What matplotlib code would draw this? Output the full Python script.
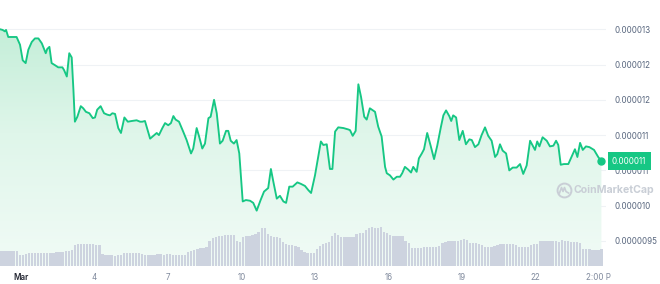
import numpy as np
import matplotlib
matplotlib.use("Agg")
import matplotlib.pyplot as plt
from matplotlib.colors import LinearSegmentedColormap
from matplotlib.patches import PathPatch
from matplotlib.lines import Line2D

plt.rcParams['font.family'] = ['Inter', 'DejaVu Sans']

# ---------------- data ----------------
# time axis: day of March (fractional)
days = [0.14, 0.25, 0.34, 0.39, 0.48, 0.62, 0.82, 0.96, 1.07, 1.19, 1.30, 1.44, 1.57, 1.71, 1.85, 2.01, 2.07, 2.16, 2.25, 2.39,
        2.52, 2.69, 2.76, 2.87, 2.97, 3.07, 3.14, 3.20, 3.30, 3.44, 3.54, 3.65, 3.79, 3.93, 4.02, 4.11, 4.25, 4.39, 4.52, 4.63,
        4.73, 4.84, 4.97, 5.08, 5.22, 5.36, 5.52, 5.72, 5.86, 5.95, 6.06, 6.17, 6.27, 6.44, 6.54, 6.63, 6.77, 6.88, 7.01, 7.12,
        7.22, 7.31, 7.45, 7.62, 7.76, 7.94, 8.03, 8.17, 8.27, 8.40, 8.51, 8.65, 8.74, 8.88, 8.99,
        9.12, 9.23, 9.37, 9.46, 9.56, 9.69, 9.80, 9.91, 10.05, 10.18, 10.35, 10.48, 10.62, 10.78, 10.92, 11.09, 11.20, 11.30,
        11.44, 11.57, 11.71, 11.82, 11.95, 12.09, 12.28, 12.42, 12.59, 12.73, 12.84,
        13.00, 13.11, 13.24, 13.34, 13.48, 13.61, 13.71, 13.82, 13.95, 14.16, 14.36, 14.43, 14.54, 14.66, 14.77, 14.88, 15.01,
        15.11, 15.24, 15.45, 15.58, 15.72, 15.86, 15.93, 16.06, 16.20, 16.34, 16.47, 16.56, 16.67, 16.81, 16.92, 17.01, 17.15,
        17.24, 17.36,
        17.45, 17.58, 17.72, 17.86, 17.99, 18.13, 18.24, 18.35, 18.48, 18.56, 18.64, 18.76, 18.89, 19.03, 19.16, 19.30, 19.40,
        19.53, 19.67, 19.80, 19.94, 20.07, 20.21, 20.35, 20.44, 20.55, 20.66, 20.80, 20.93, 21.07, 21.23, 21.37, 21.50, 21.64,
        21.78,
        21.89, 21.98, 22.07, 22.16, 22.29, 22.46, 22.59, 22.73, 22.84, 22.93, 23.03, 23.16, 23.34, 23.48, 23.61, 23.71, 23.82,
        23.93, 24.06, 24.20, 24.39, 24.56, 24.69]

# price in units of 1e-6 USD
price_micro = [12.50, 12.49, 12.47, 12.49, 12.39, 12.39, 12.39, 12.28, 12.06, 12.02, 12.21, 12.32, 12.37, 12.37, 12.30, 12.16,
               12.22, 12.25, 12.02, 11.99, 11.96, 11.96, 11.92, 11.83, 12.16, 12.10, 11.64, 11.19, 11.26, 11.41, 11.38, 11.33,
               11.31, 11.24, 11.25, 11.36, 11.41, 11.31, 11.29, 11.28,
               11.31, 11.30, 11.10, 11.03, 11.25, 11.19, 11.20, 11.21, 11.19, 11.19, 11.20, 11.07, 10.95, 11.00, 11.03, 11.00,
               11.10, 11.17, 11.14, 11.17, 11.27, 11.22, 11.19, 11.05, 10.93, 10.74, 10.81, 11.10, 10.98, 10.81, 10.88, 11.24,
               11.26, 11.50, 11.31,
               10.88, 10.92, 11.06, 11.06, 10.92, 10.88, 10.93, 10.74, 10.06, 10.08, 10.07, 10.04, 9.93, 10.08, 10.20, 10.25,
               10.52, 10.34, 10.10, 10.14, 10.06, 10.04, 10.27, 10.27, 10.33, 10.31, 10.28, 10.22, 10.18,
               10.43, 10.65, 10.91, 10.86, 10.87, 10.52, 10.52, 11.05, 11.11, 11.10, 11.08, 11.07, 10.99, 11.06, 11.72, 11.54,
               11.26, 11.22, 11.38, 11.33, 11.12, 10.98, 10.55, 10.46, 10.43, 10.37, 10.41, 10.41, 10.46, 10.55, 10.51, 10.47,
               10.55, 10.48, 10.67, 10.74,
               10.80, 11.03, 10.85, 10.66, 10.85, 11.10, 11.28, 11.35, 11.27, 11.20, 11.28, 11.25, 10.93, 11.06, 10.87, 10.94,
               10.93, 10.83, 10.87, 11.00, 11.11, 10.99, 10.92, 10.69, 10.73, 10.87, 10.78, 10.74, 10.50, 10.54, 10.54, 10.59,
               10.45, 10.57, 10.92,
               10.85, 10.79, 10.91, 10.84, 10.97, 10.92, 10.84, 10.85, 10.92, 10.86, 10.58, 10.59, 10.59, 10.70, 10.80, 10.69,
               10.89, 10.79, 10.84, 10.83, 10.79, 10.69, 10.63]

# volume (arbitrary units), one bar per 3 hours
volume = [15, 15, 15, 14.5, 15, 14.5,
          11, 11,
          12, 12.5, 13, 13, 13, 13, 13, 12.5, 13,
          13, 13.5, 14, 14, 14.5, 15,
          16,
          21, 22, 22, 22, 22, 21.5, 21.5, 21, 21,
          12, 11, 10.5, 10.5, 10, 10.5, 10.5,
          12.5, 12.5, 12.5, 12.5, 12.5, 12.5, 12,
          11, 11, 11, 11, 11.5, 11.5, 11, 11.5, 12, 11, 10.5, 10.5, 10.5, 10.5,
          14, 15, 16, 17, 18, 18, 19,
          25, 28, 29, 30, 30, 30.5, 31, 31, 31,
          25, 24,
          29, 30, 30, 31, 32,
          34, 38, 38,
          32, 30, 29, 29, 28,
          24, 22, 21, 21, 20, 19,
          16, 14, 13, 12.5, 13,
          17, 20, 22, 23, 24,
          30, 33, 31,
          29, 28.5, 28.5, 28.5, 29,
          32, 32.5, 33,
          36, 38, 38.5, 38, 38, 38.5,
          34, 33,
          31, 30, 29.5, 29.5, 29.5,
          25, 23,
          18, 18, 18, 18, 18.5, 18.5, 18.5, 19, 19, 20,
          23, 24, 25, 25, 24.5, 24.5,
          26, 26.5, 25.5,
          23, 22.5, 22.5, 21.5, 21,
          18.5, 18.5, 18.5,
          20, 21, 21.5, 21.5, 22, 21.5, 21.5, 21,
          19, 18.5, 18.5, 18.5,
          21, 22, 22,
          24.5, 25, 25, 25, 25, 24.5, 24,
          26,
          25, 24.5, 24, 24, 23.5, 23,
          17, 16.5, 16.5, 16, 16, 16, 16.5]
vol_start_day = 0.2
vol_step_day = 0.125

ytick_vals_micro = [9.5, 10.0, 10.5, 11.0, 11.5, 12.0, 12.5]
ytick_labels = ['0.0000095', '0.000010', '0.000011', '0.000011', '0.000012', '0.000012', '0.000013']
xtick_days = [1, 4, 7, 10, 13, 16, 19, 22, 24.583]
xtick_labels = ['Mar', '4', '7', '10', '13', '16', '19', '22', '2:00 P']
current_label = '0.000011'

# ---------------- styling ----------------
GREEN = '#16c784'
W, H = 660, 284
fig = plt.figure(figsize=(W / 100, H / 100), dpi=100)
fig.patch.set_facecolor('white')

ax_right_px = 606
ax_bottom_px = 265.7
rect = [0, (H - ax_bottom_px) / H, ax_right_px / W, ax_bottom_px / H]
ax = fig.add_axes(rect)
ax.set_facecolor('none')
axv = ax.twinx()

x = np.array(days)
y = np.array(price_micro) * 1e-6
yticks = np.array(ytick_vals_micro) * 1e-6

xmin, xmax = 0.143, 24.878
ymin, ymax = 9.150e-6, 12.914e-6
ax.set_xlim(xmin, xmax)
ax.set_ylim(ymin, ymax)

# gradient area fill under the line
poly = ax.fill_between(x, y, ymin, color='none', lw=0)
path = poly.get_paths()[0]
patch = PathPatch(path, transform=ax.transData, facecolor='none', edgecolor='none')
ax.add_patch(patch)
cmap = LinearSegmentedColormap.from_list('g', ['#f1fbf6', '#dff6ea', '#bdecd4'])
grad = np.linspace(0, 1, 256).reshape(-1, 1)
im = ax.imshow(grad, extent=[xmin, xmax, ymin, ymax], origin='lower', aspect='auto',
               cmap=cmap, zorder=1, interpolation='bicubic')
im.set_clip_path(patch)

ax.plot(x, y, color=GREEN, lw=1.35, zorder=4, solid_joinstyle='round')
ax.plot([x[-1]], [y[-1]], 'o', ms=5, color=GREEN, zorder=5)

# grid / ticks
ax.set_yticks(yticks)
ax.set_yticklabels(ytick_labels)
ax.yaxis.tick_right()
ax.yaxis.set_label_position('right')
ax.grid(axis='y', color='#eff2f5', lw=0.8)
ax.set_axisbelow(True)
ax.tick_params(axis='y', which='both', left=False, right=False, labelleft=False, labelright=True,
               length=0, pad=6, labelsize=5.8, labelcolor='#58667e')
ax.set_xticks(xtick_days)
ax.set_xticklabels(xtick_labels)
ax.tick_params(axis='x', length=0, pad=5, labelsize=5.8, labelcolor='#808a9d')
xl = ax.get_xticklabels()
xl[0].set_color('#222531')
xl[0].set_fontweight('semibold')
for s in ax.spines.values():
    s.set_visible(False)

# volume bars on the twin axis
axv.set_ylim(0, ax_bottom_px)
bar_days = vol_start_day + vol_step_day * np.arange(len(volume))
axv.bar(bar_days, volume, width=0.095, color='#cdd3df', lw=0, zorder=2)
axv.set_yticks([])
axv.tick_params(axis='y', left=False, right=False, labelleft=False, labelright=False)
axv.set_xlim(xmin, xmax)
for s in axv.spines.values():
    s.set_visible(False)

# current price badge
ax.text(612 / ax_right_px, y[-1], current_label, transform=ax.get_yaxis_transform(),
        ha='left', va='center', fontsize=5.8, color='white', zorder=20, clip_on=False,
        bbox=dict(boxstyle='square,pad=0.55', fc=GREEN, ec='none'))

# watermark
wm_color = '#c9ced6'
fig.text(573 / W, 1 - 190 / H, 'CoinMarketCap', fontsize=7.6, fontweight='bold',
         color=wm_color, ha='left', va='center', zorder=30)
fig.add_artist(Line2D([564 / W], [1 - 190 / H], marker='o', ms=10, mfc='none',
                      mec=wm_color, mew=1.4, transform=fig.transFigure))
zx = np.array([559.5, 561.5, 563.0, 564.5, 566.0, 568.5]) / W
zy = 1 - np.array([193, 187.5, 191.5, 187.5, 191.5, 193]) / H
fig.add_artist(Line2D(zx, zy, color=wm_color, lw=1.2, transform=fig.transFigure))

fig.savefig('out.png', dpi=100, facecolor='white')
